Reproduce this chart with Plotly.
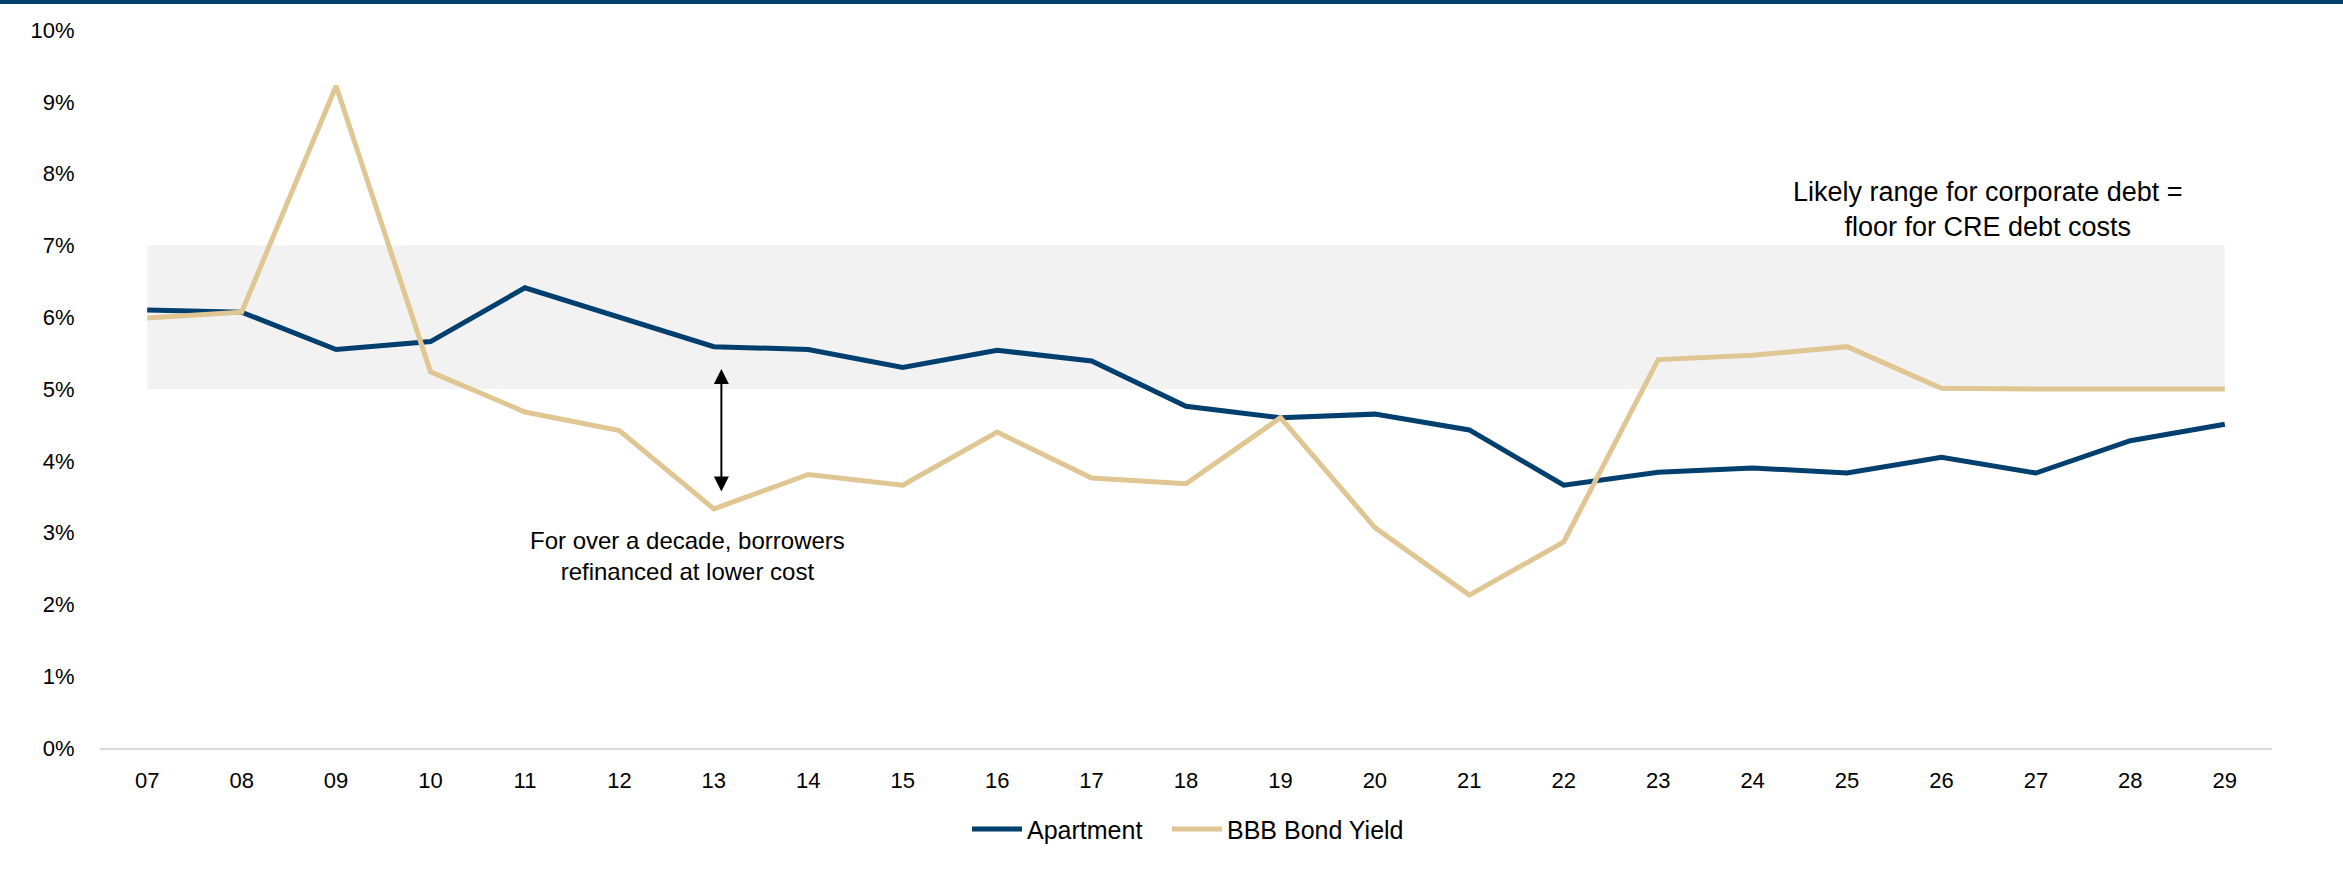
import plotly.graph_objects as go

years = ["07", "08", "09", "10", "11", "12", "13", "14", "15", "16", "17", "18",
         "19", "20", "21", "22", "23", "24", "25", "26", "27", "28", "29"]
apartment = [6.10, 6.07, 5.55, 5.66, 6.41, 6.00, 5.59, 5.55, 5.30, 5.54, 5.39, 4.76,
             4.60, 4.65, 4.43, 3.66, 3.84, 3.90, 3.83, 4.05, 3.83, 4.28, 4.51]
bbb_yield = [5.99, 6.07, 9.22, 5.24, 4.68, 4.42, 3.33, 3.81, 3.66, 4.40, 3.76, 3.68,
             4.60, 3.07, 2.13, 2.87, 5.41, 5.47, 5.59, 5.01, 5.00, 5.00, 5.00]
band_low, band_high = 5.0, 7.0
y_ticks = [0, 1, 2, 3, 4, 5, 6, 7, 8, 9, 10]
y_tick_labels = ["0%", "1%", "2%", "3%", "4%", "5%", "6%", "7%", "8%", "9%", "10%"]

NAVY = "#003F6E"
TAN = "#DFC692"
FONT = "Liberation Sans, Arial, sans-serif"

fig = go.Figure()
fig.add_trace(go.Scatter(x=years, y=apartment, mode="lines", name="Apartment",
                         line=dict(color=NAVY, width=5), legend="legend"))
fig.add_trace(go.Scatter(x=years, y=bbb_yield, mode="lines", name="BBB Bond Yield",
                         line=dict(color=TAN, width=5), legend="legend2"))

# shaded likely range
fig.add_shape(type="rect", xref="x", yref="y", x0=0, x1=len(years) - 1,
              y0=band_low, y1=band_high, fillcolor="#F2F2F2", line=dict(width=0),
              layer="below")

# top bar
fig.add_shape(type="rect", xref="paper", yref="paper",
              x0=-100 / 2172, x1=1 + 71 / 2172, y0=(748 - 4) / 718, y1=(748 + 5) / 718,
              fillcolor=NAVY, line=dict(width=0), layer="above")

# double-headed arrow
fig.add_annotation(x=6.08, y=5.28, ax=6.08, ay=3.55, xref="x", yref="y",
                   axref="x", ayref="y", text="", showarrow=True,
                   arrowhead=2, startarrowhead=2, arrowside="end+start",
                   arrowsize=1.5, startarrowsize=1.5, arrowwidth=2, arrowcolor="#000000")

fig.add_annotation(x=5.72, y=2.67, xref="x", yref="y",
                   text="For over a decade, borrowers<br>refinanced at lower cost",
                   showarrow=False, font=dict(family=FONT, size=24, color="#000000"),
                   align="center")

fig.add_annotation(x=19.49, y=7.5, xref="x", yref="y",
                   text="Likely range for corporate debt =<br>floor for CRE debt costs",
                   showarrow=False, font=dict(family=FONT, size=27, color="#000000"),
                   align="center")

legend_style = dict(orientation="h", yanchor="middle", y=-0.113, xanchor="left",
                    font=dict(family=FONT, size=25, color="#000000"),
                    bgcolor="rgba(0,0,0,0)", itemwidth=50)

fig.update_layout(
    width=2343, height=872,
    margin=dict(l=100, r=71, t=30, b=124),
    paper_bgcolor="white", plot_bgcolor="white",
    font=dict(family=FONT, size=22, color="#000000"),
    showlegend=True,
    legend=dict(legend_style, x=(967 - 100) / 2172),
    legend2=dict(legend_style, x=(1167 - 100) / 2172),
)
fig.update_xaxes(type="category", range=[-0.5, len(years) - 0.5],
                 showline=True, linecolor="#D9D9D9", linewidth=2,
                 showgrid=False, zeroline=False,
                 ticks="outside", ticklen=12, tickcolor="rgba(0,0,0,0)",
                 tickfont=dict(family=FONT, size=22, color="#000000"))
fig.update_yaxes(range=[0, 10], tickvals=y_ticks, ticktext=y_tick_labels,
                 showline=False, showgrid=False, zeroline=False,
                 ticks="outside", ticklen=20, tickcolor="rgba(0,0,0,0)",
                 tickfont=dict(family=FONT, size=22, color="#000000"))

fig.write_html("out.html", config={"displayModeBar": False},
               post_script="document.body.style.margin='0';document.body.style.overflow='hidden';")
